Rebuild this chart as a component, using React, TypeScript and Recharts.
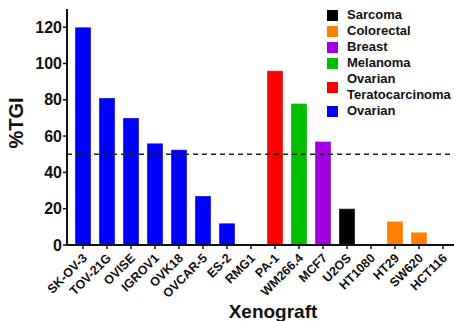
import React from 'react'
import { Bar, BarChart, Cell, Label, ReferenceLine, XAxis, YAxis } from 'recharts'

// xenograft models, in plotting order
const models = [
  'SK-OV-3', 'TOV-21G', 'OVISE', 'IGROV1', 'OVK18', 'OVCAR-5', 'ES-2', 'RMG1',
  'PA-1', 'WM266.4', 'MCF7', 'U2OS', 'HT1080', 'HT29', 'SW620', 'HCT116',
]
const tgi = [120, 81, 70, 56, 52.5, 27, 12, 0, 96, 78, 57, 20, 0, 13, 7, 0]
const tumorType = [
  'Ovarian', 'Ovarian', 'Ovarian', 'Ovarian', 'Ovarian', 'Ovarian', 'Ovarian', 'Ovarian',
  'Ovarian Teratocarcinoma', 'Melanoma', 'Breast', 'Sarcoma', 'Sarcoma', 'Colorectal', 'Colorectal', 'Colorectal',
]
const yTicks = [0, 20, 40, 60, 80, 100, 120]
const threshold = 50

const legendTypes = ['Sarcoma', 'Colorectal', 'Breast', 'Melanoma', 'Ovarian Teratocarcinoma', 'Ovarian']
const typeColors: Record<string, string> = {
  Sarcoma: '#000000',
  Colorectal: '#ff8000',
  Breast: '#a000e0',
  Melanoma: '#00bf00',
  'Ovarian Teratocarcinoma': '#ff0000',
  Ovarian: '#0000ff',
}

const data = models.map((name, i) => ({ name, tgi: tgi[i], type: tumorType[i] }))

const FONT = '"Liberation Sans", Arial, sans-serif'

const AngledTick = (props: any) => {
  const { x, y, payload } = props
  return (
    <g transform={`translate(${x + 2},${y + 5})`}>
      <text
        x={0}
        y={0}
        dy={4}
        textAnchor="end"
        transform="rotate(-45)"
        fontSize={12.5}
        fontWeight="bold"
        fontFamily={FONT}
        fill="#111"
      >
        {payload.value}
      </text>
    </g>
  )
}

// legend drawn beside the plot, top right
const TypeLegend = () => (
  <div
    style={{
      position: 'absolute',
      left: 327,
      top: 7,
      fontFamily: FONT,
      fontWeight: 'bold',
      fontSize: 13,
      color: '#111',
      lineHeight: '16px',
    }}
  >
    {legendTypes.map((t) => {
      const lines = t.split(' ')
      return (
        <div key={t} style={{ display: 'flex', alignItems: 'center' }}>
          <span style={{ width: 11, height: 11, background: typeColors[t], marginRight: 9, flexShrink: 0 }} />
          <span>
            {lines.map((l) => (
              <div key={l}>{l}</div>
            ))}
          </span>
        </div>
      )
    })}
  </div>
)

export default function App() {
  return (
    <div style={{ position: 'absolute', left: 0, top: 0, width: 454, height: 321, overflow: 'hidden', background: '#fff' }}>
      <BarChart
        width={458}
        height={321}
        data={data}
        margin={{ top: 9, right: 3, left: 0, bottom: 0 }}
        barSize={16}
      >
        <XAxis
          dataKey="name"
          interval={0}
          height={76}
          padding={{ left: 4, right: 0 }}
          tick={<AngledTick />}
          tickSize={4}
          axisLine={{ stroke: '#111', strokeWidth: 2 }}
          tickLine={{ stroke: '#111', strokeWidth: 1.5 }}
        >
          <Label
            value="Xenograft"
            position="insideBottom"
            offset={3}
            dx={12}
            style={{ fontFamily: FONT, fontWeight: 'bold', fontSize: 19, fill: '#111' }}
          />
        </XAxis>
        <YAxis
          width={67}
          domain={[0, 130]}
          ticks={yTicks}
          tickSize={4}
          tickMargin={1}
          axisLine={{ stroke: '#111', strokeWidth: 2 }}
          tickLine={{ stroke: '#111', strokeWidth: 1.5 }}
          tick={{ fontFamily: FONT, fontWeight: 'bold', fontSize: 16, fill: '#111' }}
        >
          <Label
            value="%TGI"
            angle={-90}
            position="insideLeft"
            offset={16}
            dy={-4}
            style={{ fontFamily: FONT, fontWeight: 'bold', fontSize: 20, fill: '#111', textAnchor: 'middle' }}
          />
        </YAxis>
        <ReferenceLine y={threshold} stroke="#222" strokeWidth={1.5} strokeDasharray="5 4" />
        <Bar dataKey="tgi" isAnimationActive={false} stroke="rgba(255,255,255,0.35)" strokeWidth={1}>
          {data.map((d) => (
            <Cell key={d.name} fill={typeColors[d.type]} />
          ))}
        </Bar>
      </BarChart>
      <TypeLegend />
    </div>
  )
}
